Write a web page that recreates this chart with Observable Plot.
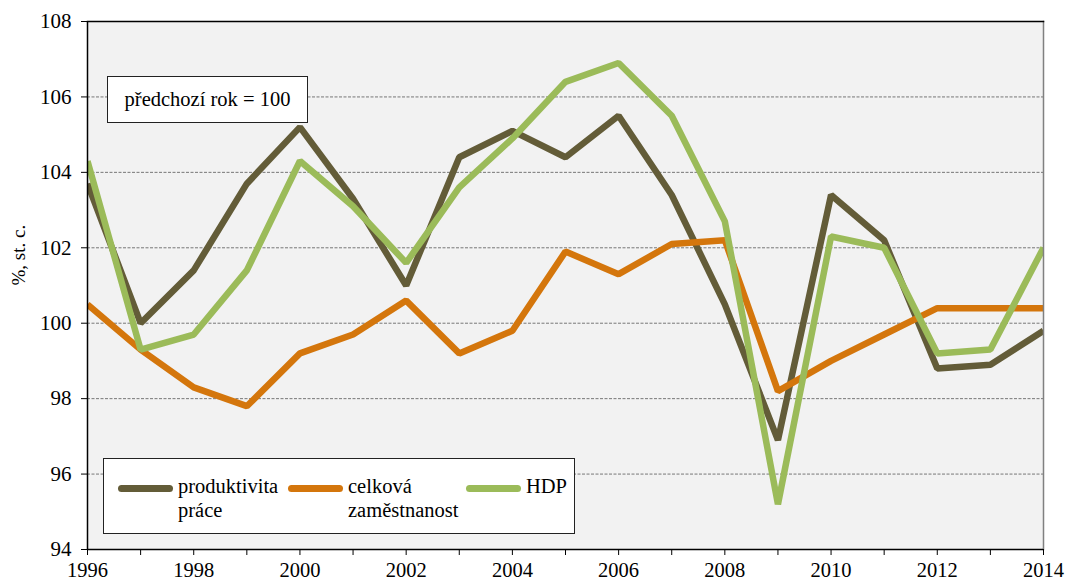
<!DOCTYPE html>
<html>
<head>
<meta charset="utf-8">
<script src="https://cdn.jsdelivr.net/npm/d3@7"></script>
<script src="https://cdn.jsdelivr.net/npm/@observablehq/plot@0.6"></script>
<style>
  html, body { margin: 0; padding: 0; background: #fff; }
  #wrap { position: relative; width: 1068px; height: 583px; font-family: "Liberation Serif", "Times New Roman", serif; }
  #wrap svg { position: absolute; left: 0; top: 0; }
  .note { position: absolute; left: 107px; top: 76px; width: 199px; height: 45px; background: #fff; border: 1px solid #222;
          font-size: 20.5px; line-height: 45px; text-align: center; color: #000; }
  .legend { position: absolute; left: 103px; top: 458px; width: 470px; height: 74px; background: #fff; border: 1px solid #222; }
  .item { position: absolute; top: 15px; font-size: 20.5px; line-height: 24px; color: #000; }
  .sw { position: absolute; top: 11px; width: 55px; height: 7px; border-radius: 3.5px; }
  .lab { position: absolute; left: 60px; top: 0; white-space: nowrap; }
</style>
</head>
<body>
<div id="wrap"></div>
<script>
const years = [1996,1997,1998,1999,2000,2001,2002,2003,2004,2005,2006,2007,2008,2009,2010,2011,2012,2013,2014];
const produktivita = [103.7,100.0,101.4,103.7,105.2,103.3,101.0,104.4,105.1,104.4,105.5,103.4,100.5,96.9,103.4,102.2,98.8,98.9,99.8];
const zamestnanost = [100.5,99.3,98.3,97.8,99.2,99.7,100.6,99.2,99.8,101.9,101.3,102.1,102.2,98.2,99.0,99.7,100.4,100.4,100.4];
const hdp = [104.3,99.3,99.7,101.4,104.3,103.1,101.6,103.6,104.9,106.4,106.9,105.5,102.7,95.2,102.3,102.0,99.2,99.3,102.0];
const seriesNames = ["produktivita práce", "celková zaměstnanost", "HDP"];
const seriesColors = ["#635c38", "#d4760c", "#9bbb59"];
const yTicks = [94, 96, 98, 100, 102, 104, 106, 108];
const gridTicks = [96, 98, 100, 102, 104, 106];
const xLabelTicks = [1996, 1998, 2000, 2002, 2004, 2006, 2008, 2010, 2012, 2014];
const yLabel = "%, st. c.";
const noteText = "předchozí rok = 100";

const seriesValues = [produktivita, zamestnanost, hdp];
const data = seriesValues.flatMap((vals, i) => years.map((yr, j) => ({series: seriesNames[i], year: yr, value: vals[j]})));

const chart = Plot.plot({
  width: 1068,
  height: 583,
  marginLeft: 87,
  marginRight: 25,
  marginTop: 21,
  marginBottom: 34,
  style: {fontFamily: "'Liberation Serif', 'Times New Roman', serif", fontSize: "21px", background: "transparent", color: "#000"},
  x: {domain: [1996, 2014]},
  y: {domain: [94, 108]},
  color: {domain: seriesNames, range: seriesColors},
  marks: [
    Plot.frame({fill: "#f2f2f2", stroke: null}),
    Plot.ruleY(gridTicks, {stroke: "#777", strokeWidth: 1, strokeDasharray: "3,1.5"}),
    Plot.line(data, {x: "year", y: "value", z: "series", stroke: "series", strokeWidth: 6.5, strokeLinejoin: "miter", strokeLinecap: "butt", clip: true}),
    Plot.frame({anchor: "right", stroke: "#808080", strokeWidth: 1.5}),
    Plot.frame({anchor: "top", stroke: "#000", strokeWidth: 1.5}),
    Plot.axisY(yTicks, {tickSize: 6, tickPadding: 10, stroke: "#000", fontSize: 21, label: null}),
    Plot.axisX(years, {tickSize: 6, tickFormat: () => "", label: null}),
    Plot.axisX(xLabelTicks, {tickSize: 0, tickPadding: 13, tickFormat: d => String(d), fontSize: 20.5, label: null}),
    Plot.ruleX([1996], {stroke: "#000", strokeWidth: 1.5}),
    Plot.ruleY([94], {stroke: "#000", strokeWidth: 1.5}),
    Plot.text([yLabel], {frameAnchor: "left", dx: -69, rotate: -90, fontSize: 19, text: d => d})
  ]
});

const wrap = document.getElementById("wrap");
wrap.appendChild(chart);

const note = document.createElement("div");
note.className = "note";
note.textContent = noteText;
wrap.appendChild(note);

const legend = document.createElement("div");
legend.className = "legend";
const itemLeft = [14, 184, 362];
const labelsHtml = ["produktivita<br>práce", "celková<br>zaměstnanost", "HDP"];
seriesNames.forEach((name, i) => {
  const it = document.createElement("div");
  it.className = "item";
  it.style.left = itemLeft[i] + "px";
  it.innerHTML = `<div class="sw" style="background:${seriesColors[i]}"></div><div class="lab">${labelsHtml[i]}</div>`;
  legend.appendChild(it);
});
wrap.appendChild(legend);
</script>
</body>
</html>
